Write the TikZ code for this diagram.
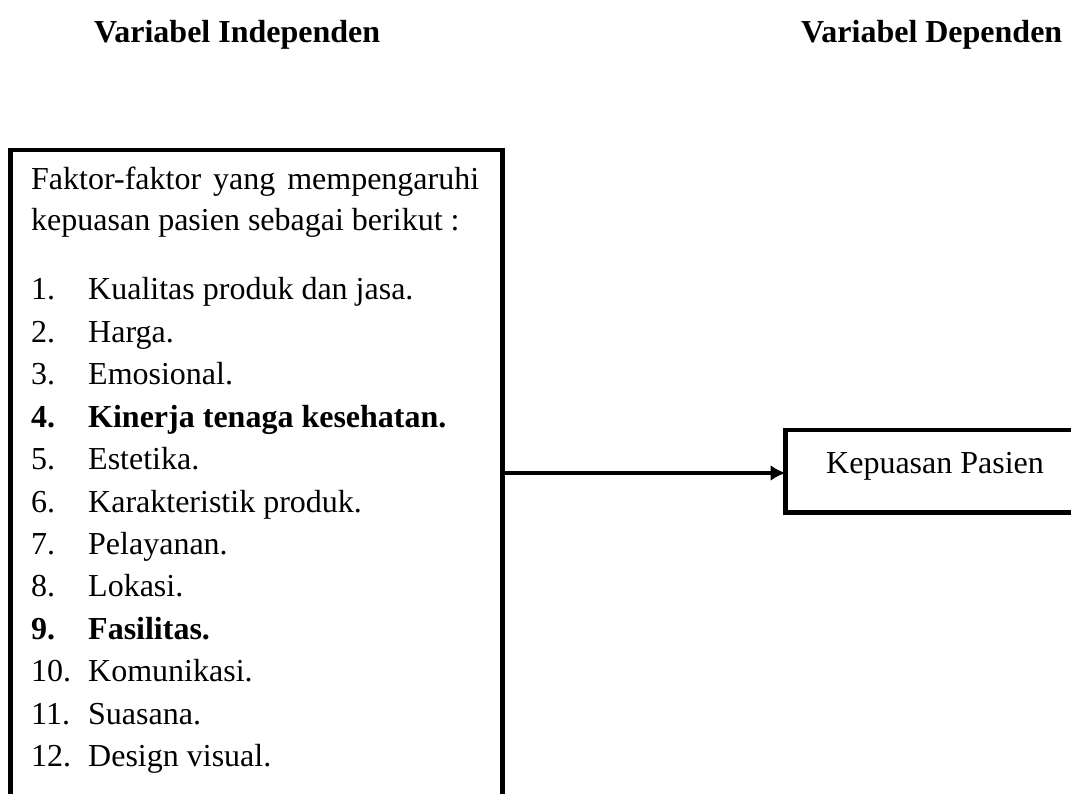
\documentclass[tikz,border=0pt]{standalone}
\usepackage{fontspec}
\setmainfont{Liberation Serif}
\usetikzlibrary{arrows.meta}
\tikzset{
  frame/.style={line width=4.5pt, line cap=rect},
  txt/.style={anchor=base west, inner sep=0pt, font=\fontsize{32}{40}\selectfont},
  btxt/.style={txt, font=\fontsize{32}{40}\selectfont\bfseries},
  hdr/.style={anchor=base west, inner sep=0pt, font=\fontsize{32}{40}\selectfont\bfseries},
  conn/.style={line width=4.5pt, -{Latex[length=15pt,width=16pt]}}
}
\begin{document}
\begin{tikzpicture}[x=1pt,y=-1pt]
\useasboundingbox (0,0) rectangle (1071,794);
\clip (0,0) rectangle (1071,794);
% headers
\node[hdr] (hindep) at (94,43) {Variabel Independen};
\node[hdr] (hdep) at (801,43) {Variabel Dependen};
% left box (open at bottom)
\node[minimum width=491.5pt, minimum height=700pt, inner sep=0pt, anchor=north west] (leftbox) at (10.5,150) {};
\draw[frame] (leftbox.south west) -- (leftbox.north west) -- (leftbox.north east) -- (leftbox.south east);
\node[txt] (l0) at (31,190) {\hbox to 448pt{Faktor-faktor\hfill yang\hfill mempengaruhi}};
\node[txt] (l1) at (31,231) {kepuasan pasien sebagai berikut :};
\foreach \i/\t/\y in {1/Kualitas produk dan jasa./300, 2/Harga./342.4, 3/Emosional./384.8, 5/Estetika./469.6, 6/Karakteristik produk./512, 7/Pelayanan./554.4, 8/Lokasi./596.8, 10/Komunikasi./681.6, 11/Suasana./724, 12/Design visual./766.4}{
  \node[txt] (n\i) at (31,\y) {\i.};
  \node[txt] (t\i) at (88,\y) {\t};
}
\node[btxt] (n4) at (31,427.2) {4.};
\node[btxt] (t4) at (88,427.2) {Kinerja tenaga kesehatan.};
\node[btxt] (n9) at (31,639.2) {9.};
\node[btxt] (t9) at (88,639.2) {Fasilitas.};
% right box (open at right)
\node[minimum width=340pt, minimum height=82pt, inner sep=0pt, anchor=north west] (rightbox) at (785.5,430) {};
\draw[frame] (rightbox.north east) -- (rightbox.north west) -- (rightbox.south west) -- (rightbox.south east);
\node[txt] (kp) at (826,473) {Kepuasan Pasien};
% connector
\coordinate (start) at (leftbox.east |- 0,473);
\draw[conn] (start) -- (start -| rightbox.west);
\end{tikzpicture}
\end{document}
